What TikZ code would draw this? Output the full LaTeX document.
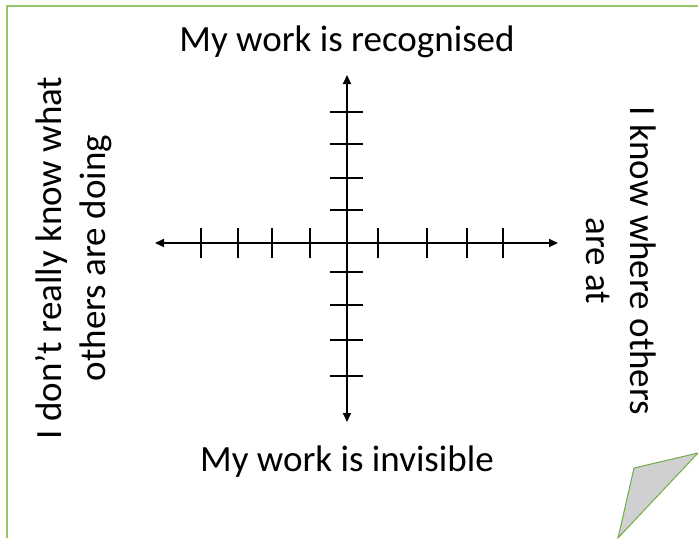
\documentclass[tikz,border=0pt]{standalone}
\usepackage{fontspec}
\setmainfont{Carlito}
\usetikzlibrary{arrows.meta}
\definecolor{framegreen}{RGB}{146,200,104}
\definecolor{foldgreen}{RGB}{112,173,71}
\definecolor{foldgray}{RGB}{208,208,208}

\begin{document}
\begin{tikzpicture}[
  x=1pt, y=-1pt, >={Triangle[length=9pt,width=8pt]},
  font=\fontsize{37}{44}\selectfont,
  axis/.style={<->, line width=1.8pt},
  tickline/.style={line width=1.5pt},
  side/.style={align=center, inner sep=0pt}
]
\useasboundingbox (0,0) rectangle (698,538);

% page frame and folded corner
\draw[framegreen, line width=2.6pt] (7,538) -- (7,6) -- (698,6);
\draw[foldgreen, line width=1pt, fill=foldgray] (618,538) -- (634,468) -- (698,453) -- cycle;

% axes
\coordinate (W) at (155,243);
\coordinate (E) at (558,243);
\coordinate (N) at (347,75);
\coordinate (S) at (347,422);
\draw[axis] (W) -- (E);
\draw[axis] (N) -- (S);

% ticks
\foreach \x in {201,238,272,310,378,427,467,503}
  \draw[tickline] (\x,228) -- (\x,258);
\foreach \y in {112,144,178,210,272,305,340,376}
  \draw[tickline] (330,\y) -- (363,\y);

% labels
\node[side] (top) at (347,42) {My work is recognised};
\node[side] (bottom) at (347,462) {My work is invisible};
\node[side, rotate=90] (left) at (74,258) {I don’t really know what\\others are doing};
\node[side, rotate=-90] (right) at (621,261) {I know where others\\are at};

\end{tikzpicture}
\end{document}
